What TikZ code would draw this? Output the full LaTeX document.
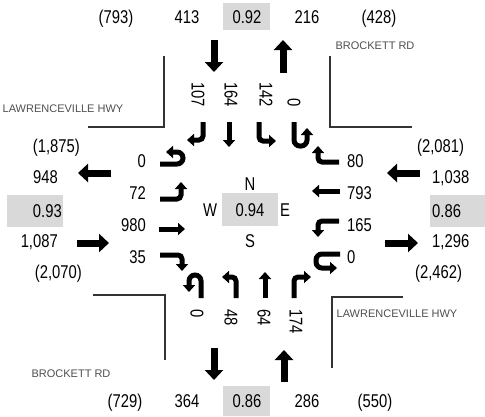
\documentclass[tikz,border=0pt]{standalone}
\usepackage{fontspec}
\setmainfont{Liberation Sans}
\newfontfamily\numfont{Liberation Sans}[FakeStretch=0.8]
\usetikzlibrary{arrows.meta}
\definecolor{boxgray}{HTML}{D9D9D9}
\definecolor{roadgray}{HTML}{505050}
\definecolor{linegray}{HTML}{333333}
\tikzset{
  num/.style={font=\numfont\fontsize{18.5}{18.5}\selectfont, inner sep=0pt, anchor=base},
  numr/.style={num, anchor=base east},
  numl/.style={num, anchor=base west},
  road/.style={font=\fontsize{11}{11}\selectfont, text=roadgray, inner sep=0pt, anchor=base},
  big/.style={line width=7pt, -{Triangle[width=18pt,length=10pt]}},
  mov/.style={line width=5pt, rounded corners=4pt, -{Triangle[width=12pt,length=7pt]}},
  uturn/.style={mov, rounded corners=6pt},
  corner/.style={draw=linegray, line width=2pt},
  gbox/.style={fill=boxgray},
}
\begin{document}
\begin{tikzpicture}[x=1pt,y=-1pt]
\useasboundingbox (0,0) rectangle (485,416);
\fill[white] (0,0) rectangle (485,416);
% gray boxes
\fill[gbox] (223,3) rectangle (270,30);
\fill[gbox] (223,386) rectangle (270,416);
\fill[gbox] (7,195) rectangle (63,227);
\fill[gbox] (430,195) rectangle (485,227);
\fill[gbox] (222,193) rectangle (278,226);
% corner lines
\draw[corner] (88,127) -- (164,127) -- (164,56);
\draw[corner] (330,56) -- (330,127) -- (412,127);
\draw[corner] (93,295) -- (165,295) -- (165,360);
\draw[corner] (332,368) -- (332,297) -- (403,297);
% road names
\node[road] (rtl) at (63,112) {LAWRENCEVILLE HWY};
\node[road] (rtr) at (375,49) {BROCKETT RD};
\node[road] (rbl) at (71,377) {BROCKETT RD};
\node[road] (rbr) at (397,317) {LAWRENCEVILLE HWY};
% top row
\node[num] (n1) at (116,23) {(793)};
\node[num] (n2) at (187,23) {413};
\node[num] (n3) at (247,23) {0.92};
\node[num] (n4) at (307,23) {216};
\node[num] (n5) at (379,23) {(428)};
% bottom row
\node[num] (s1) at (125,407) {(729)};
\node[num] (s2) at (187,407) {364};
\node[num] (s3) at (247,407) {0.86};
\node[num] (s4) at (307,407) {286};
\node[num] (s5) at (375,407) {(550)};
% west outer
\node[numr] (w1) at (80,152) {(1,875)};
\node[numr] (w2) at (58,183) {948};
\node[numr] (w3) at (62,217) {0.93};
\node[numr] (w4) at (58,247) {1,087};
\node[numr] (w5) at (82,278) {(2,070)};
% east outer
\node[numl] (e1) at (417,152) {(2,081)};
\node[numl] (e2) at (432,183) {1,038};
\node[numl] (e3) at (432,217) {0.86};
\node[numl] (e4) at (432,247) {1,296};
\node[numl] (e5) at (415,278) {(2,462)};
% west inner
\node[numr] (wi1) at (146,167) {0};
\node[numr] (wi2) at (146,199) {72};
\node[numr] (wi3) at (146,231) {980};
\node[numr] (wi4) at (146,263) {35};
% east inner
\node[numl] (ei1) at (347,167) {80};
\node[numl] (ei2) at (347,199) {793};
\node[numl] (ei3) at (347,231) {165};
\node[numl] (ei4) at (347,263) {0};
% center
\node[num] (cN) at (250,190) {N};
\node[num] (cW) at (210,216) {W};
\node[num] (cC) at (250,216) {0.94};
\node[num] (cE) at (285,216) {E};
\node[num] (cS) at (250,247) {S};
% north rotated
\node[num, rotate=-90, anchor=east] (ni1) at (198,107) {107};
\node[num, rotate=-90, anchor=east] (ni2) at (231,107) {164};
\node[num, rotate=-90, anchor=east] (ni3) at (266,107) {142};
\node[num, rotate=-90, anchor=east] (ni4) at (294,107) {0};
% south rotated
\node[num, rotate=-90, anchor=west] (si1) at (197,309) {0};
\node[num, rotate=-90, anchor=west] (si2) at (231,309) {48};
\node[num, rotate=-90, anchor=west] (si3) at (264,309) {64};
\node[num, rotate=-90, anchor=west] (si4) at (296,309) {174};
% big arrows
\draw[big] (214,40) -- (214,72);
\draw[big] (283,73) -- (283,40);
\draw[big] (214,348) -- (214,380);
\draw[big] (284,382) -- (284,350);
\draw[big] (111,173) -- (78,173);
\draw[big] (77,243) -- (109,243);
\draw[big] (420,173) -- (387,173);
\draw[big] (385,243) -- (418,243);
% north approach movements
\draw[mov] (203,122) -- (203,140) -- (187,140);
\draw[mov] (229,122) -- (229,147);
\draw[mov] (259,122) -- (259,141) -- (276,141);
\draw[uturn] (294,122) -- (294,146) -- (307,146) -- (307,128);
% east approach
\draw[mov] (339,162) -- (318,162) -- (318,146);
\draw[mov] (340,191) -- (312,191);
\draw[mov] (339,221) -- (318,221) -- (318,237);
\draw[uturn] (340,254) -- (316,254) -- (316,268) -- (337,268);
% west approach
\draw[uturn] (160,164) -- (183,164) -- (183,152) -- (166,152);
\draw[mov] (160,199) -- (181,199) -- (181,182);
\draw[mov] (159,229) -- (185,229);
\draw[mov] (160,255) -- (182,255) -- (182,271);
% south approach
\draw[uturn] (201,298) -- (201,275) -- (189,275) -- (189,292);
\draw[mov] (236,298) -- (236,277) -- (222,277);
\draw[mov] (265,298) -- (265,272);
\draw[mov] (294,298) -- (294,277) -- (311,277);
\end{tikzpicture}
\end{document}
